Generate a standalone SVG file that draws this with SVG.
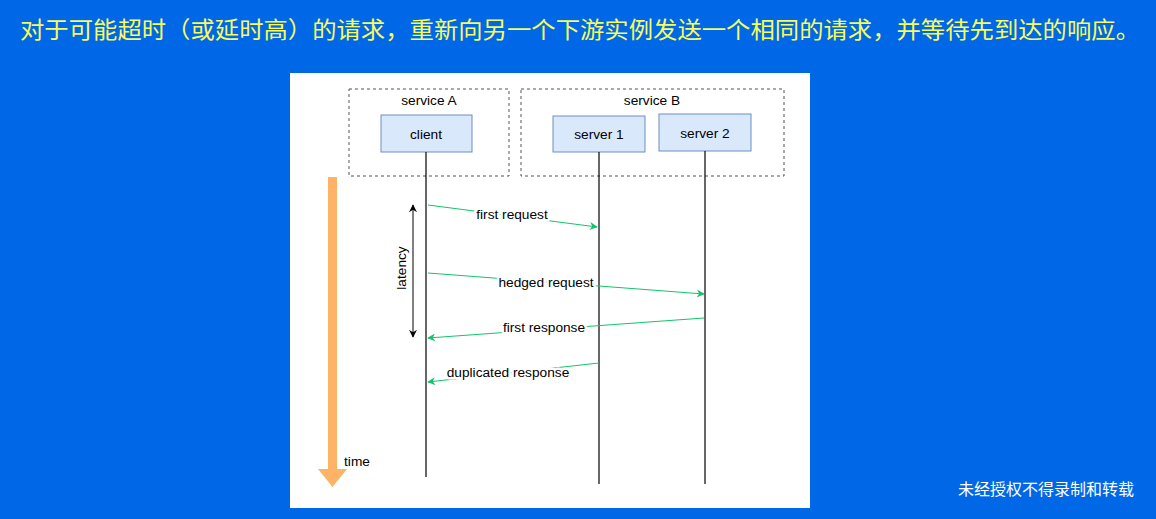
<svg xmlns="http://www.w3.org/2000/svg" width="1156" height="519" viewBox="0 0 1156 519">
<defs>
<style>
.lbl{font-family:"Liberation Sans",Arial,sans-serif;font-size:13.7px;fill:#000;text-anchor:middle}
.node{fill:#dae8fc;stroke:#6c8ebf;stroke-width:1}
.grp{fill:none;stroke:#555;stroke-width:1;stroke-dasharray:3,3}
.life{stroke:#000;stroke-width:1.2}
.msg{stroke:#13c46a;stroke-width:1;fill:none;marker-end:url(#ga)}
.mlbl{font-family:"Liberation Sans",Arial,sans-serif;font-size:13.7px;fill:#000;text-anchor:middle;paint-order:stroke;stroke:#fff;stroke-width:5px;stroke-linejoin:round}
</style>
<marker id="ga" viewBox="0 0 10 10" refX="9" refY="5" markerWidth="8" markerHeight="8" markerUnits="userSpaceOnUse" orient="auto">
<path d="M0,0 L10,5 L0,10 L3,5 z" fill="#13c46a"/>
</marker>
<marker id="ba" viewBox="0 0 10 10" refX="9" refY="5" markerWidth="8" markerHeight="8" markerUnits="userSpaceOnUse" orient="auto-start-reverse">
<path d="M0,0 L10,5 L0,10 L3,5 z" fill="#000"/>
</marker>
</defs>
<rect x="0" y="0" width="1156" height="519" fill="#0067e6"/>
<text x="20" y="38" font-family="'Noto Sans CJK SC',sans-serif" font-size="23" fill="#f7fb5c" textLength="1120" lengthAdjust="spacingAndGlyphs">对于可能超时（或延时高）的请求，重新向另一个下游实例发送一个相同的请求，并等待先到达的响应。</text>
<rect x="290" y="73" width="520" height="435" fill="#fff"/>
<g id="serviceA"><rect class="grp" x="349" y="89" width="160" height="87"/><text class="lbl" x="429" y="105">service A</text></g>
<g id="serviceB"><rect class="grp" x="521" y="89" width="263" height="87"/><text class="lbl" x="652" y="105">service B</text></g>
<g id="client"><rect class="node" x="381" y="115" width="91" height="37"/><text class="lbl" x="426" y="139">client</text></g>
<g id="server1"><rect class="node" x="553" y="116" width="92" height="36"/><text class="lbl" x="599" y="139">server 1</text></g>
<g id="server2"><rect class="node" x="659" y="114" width="92" height="37"/><text class="lbl" x="705" y="138">server 2</text></g>
<g id="time">
<path d="M328,177 L337,177 L337,469 L347,469 L332.5,487 L318,469 L328,469 z" fill="#ffb366"/>
<text class="lbl" x="357" y="466">time</text>
</g>
<g id="latency">
<line x1="413" y1="205" x2="413" y2="337" stroke="#000" stroke-width="1" marker-start="url(#ba)" marker-end="url(#ba)"/>
<text class="lbl" transform="translate(406,268) rotate(-90)">latency</text>
</g>
<g id="connectors">
<line class="life" x1="426" y1="152" x2="426" y2="477"/>
<line class="life" x1="599" y1="152" x2="599" y2="484"/>
<line class="life" x1="705" y1="151" x2="705" y2="484"/>
<line class="msg" x1="428" y1="205" x2="597" y2="227"/>
<text class="mlbl" x="512" y="219">first request</text>
<line class="msg" x1="428" y1="273" x2="704" y2="294"/>
<text class="mlbl" x="546" y="287">hedged request</text>
<line class="msg" x1="704" y1="318" x2="428" y2="338"/>
<text class="mlbl" x="544" y="332">first response</text>
<line class="msg" x1="599" y1="363" x2="428" y2="382"/>
<text class="mlbl" x="508" y="377">duplicated response</text>
</g>
<text x="958" y="495" font-family="'Noto Sans CJK SC',sans-serif" font-size="16" fill="#fff" textLength="176" lengthAdjust="spacingAndGlyphs">未经授权不得录制和转载</text>
</svg>
